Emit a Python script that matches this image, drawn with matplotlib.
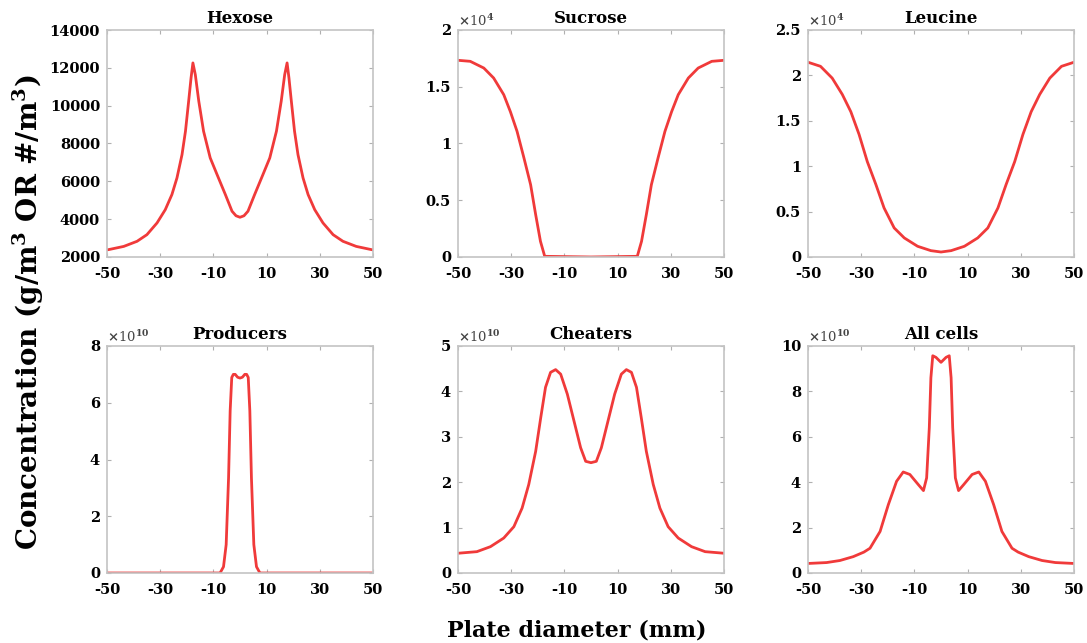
import numpy as np
import matplotlib
matplotlib.use("Agg")
import matplotlib.pyplot as plt
from matplotlib.ticker import FuncFormatter

plt.rcParams['font.family'] = ['DejaVu Serif']
plt.rcParams['font.weight'] = 'bold'
plt.rcParams['axes.unicode_minus'] = False
plt.rcParams['mathtext.fontset'] = 'custom'
plt.rcParams['mathtext.rm'] = 'DejaVu Serif:bold'
plt.rcParams['mathtext.bf'] = 'DejaVu Serif:bold'
plt.rcParams['mathtext.default'] = 'rm'

# half profiles (x <= 0), the curves are symmetric about the plate centre
hex_x = [-50, -49.4, -43.7, -38.7, -35, -31.2, -28.1, -25.6, -23.7, -21.8, -20.5, -19.3,
         -18.4, -17.7, -16.8, -15.5, -13.7, -11.2, -8.6, -5.5, -3.0, -1.5, 0]
hex_y = [2380, 2390, 2560, 2830, 3180, 3800, 4500, 5300, 6180, 7410, 8650, 10240,
         11470, 12260, 11640, 10240, 8650, 7240, 6350, 5300, 4420, 4180, 4100]

suc_x = [-50, -45.4, -40.3, -36.6, -32.8, -30.3, -27.8, -25.2, -22.7, -20.8, -19.0,
         -17.4, 0]
suc_y = [17330, 17240, 16650, 15770, 14300, 12800, 11070, 8720, 6370, 3730, 1380, 60, 0]

leu_x = [-50, -45.3, -40.9, -37.1, -33.9, -30.8, -27.7, -24.5, -21.4, -17.6, -13.8,
         -8.8, -3.8, 0]
leu_y = [21450, 21000, 19700, 17900, 16000, 13500, 10500, 8000, 5400, 3200, 2100,
         1180, 700, 550]

pro_x = [-50, -10, -7.5, -6.2, -5.2, -4.3, -3.7, -3.1, -2.5, -1.8, -0.9, 0]
pro_y = [0, 0, 0, 0.22e10, 1.0e10, 3.35e10, 5.71e10, 6.89e10, 7.0e10, 7.0e10,
         6.9e10, 6.87e10]

che_x = [-50, -42.9, -37.8, -32.8, -29, -25.9, -23.4, -20.8, -18.9, -17.1, -15.2,
         -13.3, -11.4, -8.9, -6.4, -3.9, -2.0, 0]
che_y = [0.435e10, 0.47e10, 0.58e10, 0.77e10, 1.02e10, 1.43e10, 1.95e10, 2.68e10,
         3.42e10, 4.09e10, 4.42e10, 4.48e10, 4.38e10, 3.94e10, 3.35e10, 2.76e10,
         2.46e10, 2.43e10]

all_x = [-50, -43, -38, -33, -29, -26.7, -22.9, -19.8, -16.7, -14.2, -11.7, -8.5,
         -6.6, -5.4, -4.4, -3.8, -3.1, -1.9, 0]
all_y = [0.42e10, 0.46e10, 0.55e10, 0.72e10, 0.92e10, 1.09e10, 1.83e10, 3.01e10,
         4.04e10, 4.45e10, 4.34e10, 3.89e10, 3.63e10, 4.19e10, 6.4e10, 8.6e10,
         9.57e10, 9.5e10, 9.28e10]

titles = ['Hexose', 'Sucrose', 'Leucine', 'Producers', 'Cheaters', 'All cells']
series = [(hex_x, hex_y), (suc_x, suc_y), (leu_x, leu_y),
          (pro_x, pro_y), (che_x, che_y), (all_x, all_y)]
scales = [0, 4, 4, 10, 10, 10]
y_limits = [(2000, 14000), (0, 2), (0, 2.5), (0, 8), (0, 5), (0, 10)]
y_steps = [2000, 0.5, 0.5, 2, 1, 2]
x_ticks = [-50, -30, -10, 10, 30, 50]


def mirror(x, y):
    x = np.asarray(x, dtype=float)
    y = np.asarray(y, dtype=float)
    return np.concatenate([x, -x[::-1][1:]]), np.concatenate([y, y[::-1][1:]])


fig = plt.figure(figsize=(10.87, 6.43), dpi=100)
W, H = 1087, 643
lefts = [107, 458, 808]
tops = [30, 346]
aw, ah = 266, 227

for i, (title, (sx, sy)) in enumerate(zip(titles, series)):
    r, c = divmod(i, 3)
    ax = fig.add_axes([lefts[c] / W, (H - tops[r] - ah) / H, aw / W, ah / H])
    x, y = mirror(sx, sy)
    y = y / 10 ** scales[i]
    ax.plot(x, y, color='#f03a3a', lw=2.0, solid_joinstyle='round')
    ax.set_xlim(-50, 50)
    ax.set_ylim(*y_limits[i])
    ax.set_xticks(x_ticks)
    lo, hi = y_limits[i]
    ax.set_yticks(np.arange(lo, hi + y_steps[i] / 2, y_steps[i]))
    ax.yaxis.set_major_formatter(FuncFormatter(lambda v, p: '%g' % v))
    ax.tick_params(direction='in', length=3, width=0.8, color='#b0b0b0',
                   top=True, right=True, labelsize=10.5)
    ax.tick_params(axis='x', pad=7)
    ax.tick_params(axis='y', pad=5)
    for s in ax.spines.values():
        s.set_color('#c4c4c4')
        s.set_linewidth(1.2)
    ax.set_title(title, fontsize=12, fontweight='bold', pad=5)
    if scales[i]:
        ax.text(0.0, 1.005, r'$\times$10$^{%d}$' % scales[i], transform=ax.transAxes,
                ha='left', va='bottom', fontsize=9.5, color='#444444', fontweight='normal')

fig.text(28 / W, 1 - 312 / H, r'Concentration (g/m$^{3}$ OR #/m$^{3}$)', rotation=90,
         ha='center', va='center', fontsize=20, fontweight='bold')
fig.text(577 / W, 1 - 630 / H, 'Plate diameter (mm)', ha='center', va='center',
         fontsize=16, fontweight='bold')

fig.savefig('out.png', dpi=100)
